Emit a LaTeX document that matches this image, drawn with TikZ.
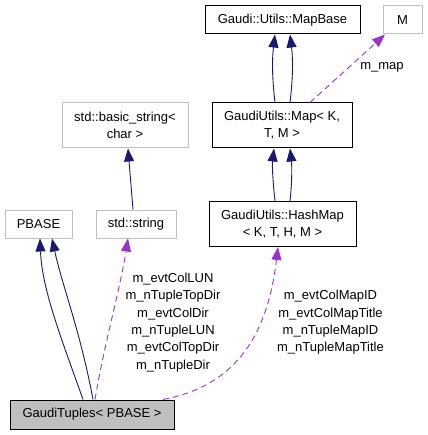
\documentclass[tikz,border=0pt]{standalone}
\usepackage{fontspec}
\setmainfont{Liberation Sans}
\usetikzlibrary{arrows.meta}
\definecolor{edgeblue}{HTML}{191970}
\definecolor{edgepurple}{HTML}{9A32CD}
\definecolor{boxgray}{HTML}{BFBFBF}
\tikzset{
  box/.style={draw=black, line width=1pt, inner sep=0pt, align=center,
    font=\fontsize{13}{17}\selectfont},
  lightbox/.style={box, draw=boxgray},
  inherit/.style={draw=edgeblue, line width=0.9pt, -{Triangle[length=13pt,width=10pt]}, edgeblue},
  usage/.style={draw=edgepurple, line width=0.9pt, dash pattern=on 6pt off 4pt,
    -{Triangle[length=13pt,width=10pt]}, edgepurple},
  lbl/.style={inner sep=0pt, align=center, font=\fontsize{13}{17.4}\selectfont}
}
\begin{document}
\begin{tikzpicture}[x=1pt,y=-1pt]
\useasboundingbox (0,0) rectangle (427,435);
\node[box, minimum width=155pt, minimum height=28pt] (mapbase) at (282.5,20) {Gaudi::Utils::MapBase};
\node[lightbox, minimum width=39pt, minimum height=28pt] (M) at (402.5,20) {M};
\node[lightbox, minimum width=126pt, minimum height=45pt] (bstr) at (125,125.5) {std::basic\_string<\\char >};
\node[box, minimum width=140pt, minimum height=45pt] (map) at (282,125.5) {GaudiUtils::Map< K,\\T, M >};
\node[box, minimum width=147pt, minimum height=45pt] (hash) at (282.5,224) {GaudiUtils::HashMap\\< K, T, H, M >};
\node[lightbox, minimum width=67pt, minimum height=28pt] (pbase) at (38.5,224) {PBASE};
\node[lightbox, minimum width=80pt, minimum height=28pt] (str) at (136,224) {std::string};
\node[box, fill=boxgray, minimum width=164pt, minimum height=29pt] (gt) at (92,414.5) {GaudiTuples< PBASE >};

% Map -> MapBase
\draw[inherit] ([xshift=-7pt]map.north) .. controls +(-3,-25) and +(-3,25) .. ([xshift=-7.5pt]mapbase.south);
\draw[inherit] ([xshift=8pt]map.north) .. controls +(3,-25) and +(3,25) .. ([xshift=7.5pt]mapbase.south);
% HashMap -> Map
\draw[inherit] ([xshift=-7.5pt]hash.north) .. controls +(-2,-18) and +(-2,18) .. ([xshift=-8pt]map.south);
\draw[inherit] ([xshift=7.5pt]hash.north) .. controls +(2,-18) and +(2,18) .. ([xshift=8pt]map.south);
% std::string -> basic_string
\draw[inherit] ([xshift=-3pt]str.north) -- ([xshift=3pt]bstr.south);
% GaudiTuples -> PBASE
\draw[inherit] ([xshift=-9pt]gt.north) .. controls (62,340) and (42,290) .. ([xshift=1.5pt]pbase.south);
\draw[inherit] ([xshift=1pt]gt.north) .. controls (80,330) and (62,285) .. ([xshift=13.5pt]pbase.south);
% usage edges
\draw[usage] ([xshift=3pt]gt.north) .. controls (105,340) and (120,290) .. ([xshift=-8pt]str.south);
\draw[usage] ([xshift=71pt]gt.north) .. controls (240,385) and (268,330) .. ([xshift=-4.5pt]hash.south);
\draw[usage] ([xshift=28pt]map.north) -- ([xshift=-17.5pt]M.south);

\node[lbl] (lmap) at (382,67) {m\_map};
\node[lbl] (lstr) at (173,322.5) {m\_evtColLUN\\m\_nTupleTopDir\\m\_evtColDir\\m\_nTupleLUN\\m\_evtColTopDir\\m\_nTupleDir};
\node[lbl] (lhash) at (330.5,322.5) {m\_evtColMapID\\m\_evtColMapTitle\\m\_nTupleMapID\\m\_nTupleMapTitle};
\end{tikzpicture}
\end{document}
